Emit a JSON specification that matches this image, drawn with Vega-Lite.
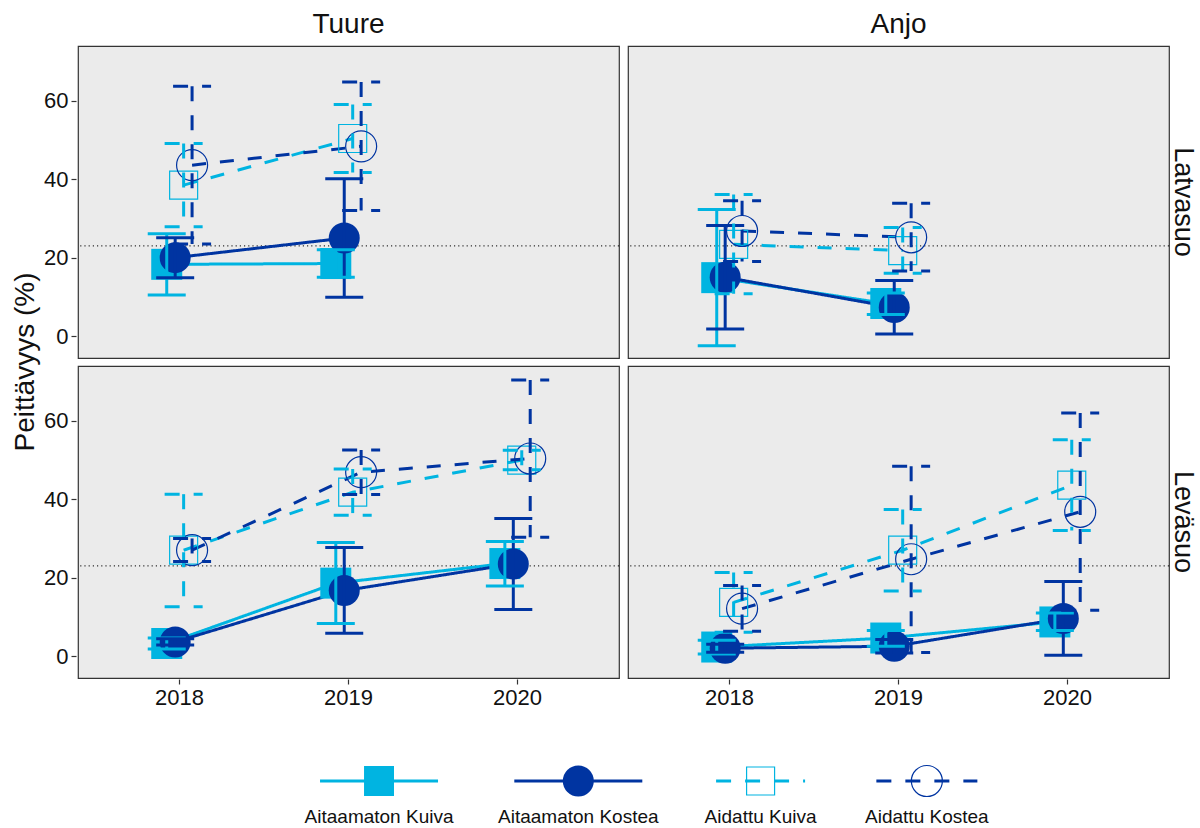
{
  "$schema": "https://vega.github.io/schema/vega-lite/v6.json",
  "background": "white",
  "padding": {"left": 11, "top": 11, "right": 0, "bottom": 0},
  "config": {
    "font": "Liberation Sans",
    "view": {"stroke": "#333333", "strokeWidth": 1.2, "fill": "#EBEBEB"},
    "axis": {"grid": false, "domain": false, "tickColor": "#333333", "tickSize": 5, "tickWidth": 1.2, "labelFontSize": 22, "labelColor": "#111111", "labelPadding": 3, "titleFontSize": 28, "titleFontWeight": "normal", "titleColor": "#111111"},
    "header": {"labelFontSize": 28, "labelColor": "#111111", "titleFontSize": 28, "titleFontWeight": "normal", "titleColor": "#111111"}
  },
  "datasets": {
    "main": [
      {"site": "Tuure", "mire": "Latvasuo", "year": "2018", "series": "Aitaamaton Kuiva", "mean": 18.3, "lo": 10.5, "hi": 26.1},
      {"site": "Tuure", "mire": "Latvasuo", "year": "2019", "series": "Aitaamaton Kuiva", "mean": 18.5, "lo": 15.0, "hi": 22.0},
      {"site": "Anjo", "mire": "Latvasuo", "year": "2018", "series": "Aitaamaton Kuiva", "mean": 14.9, "lo": -2.5, "hi": 32.3},
      {"site": "Anjo", "mire": "Latvasuo", "year": "2019", "series": "Aitaamaton Kuiva", "mean": 8.3, "lo": 5.5, "hi": 11.0},
      {"site": "Tuure", "mire": "Leväsuo", "year": "2018", "series": "Aitaamaton Kuiva", "mean": 3.2, "lo": 1.8, "hi": 4.6},
      {"site": "Tuure", "mire": "Leväsuo", "year": "2019", "series": "Aitaamaton Kuiva", "mean": 18.6, "lo": 8.3, "hi": 29.0},
      {"site": "Tuure", "mire": "Leväsuo", "year": "2020", "series": "Aitaamaton Kuiva", "mean": 23.6, "lo": 17.9, "hi": 29.2},
      {"site": "Anjo", "mire": "Leväsuo", "year": "2018", "series": "Aitaamaton Kuiva", "mean": 2.3, "lo": 0.5, "hi": 4.0},
      {"site": "Anjo", "mire": "Leväsuo", "year": "2019", "series": "Aitaamaton Kuiva", "mean": 4.6, "lo": 2.5, "hi": 6.5},
      {"site": "Anjo", "mire": "Leväsuo", "year": "2020", "series": "Aitaamaton Kuiva", "mean": 8.7, "lo": 6.5, "hi": 11.0},

      {"site": "Tuure", "mire": "Latvasuo", "year": "2018", "series": "Aitaamaton Kostea", "mean": 20.0, "lo": 14.9, "hi": 25.1},
      {"site": "Tuure", "mire": "Latvasuo", "year": "2019", "series": "Aitaamaton Kostea", "mean": 25.0, "lo": 9.9, "hi": 40.1},
      {"site": "Anjo", "mire": "Latvasuo", "year": "2018", "series": "Aitaamaton Kostea", "mean": 15.0, "lo": 1.8, "hi": 28.2},
      {"site": "Anjo", "mire": "Latvasuo", "year": "2019", "series": "Aitaamaton Kostea", "mean": 7.3, "lo": 0.5, "hi": 14.2},
      {"site": "Tuure", "mire": "Leväsuo", "year": "2018", "series": "Aitaamaton Kostea", "mean": 3.6, "lo": 2.8, "hi": 4.4},
      {"site": "Tuure", "mire": "Leväsuo", "year": "2019", "series": "Aitaamaton Kostea", "mean": 16.7, "lo": 5.8, "hi": 27.7},
      {"site": "Tuure", "mire": "Leväsuo", "year": "2020", "series": "Aitaamaton Kostea", "mean": 23.5, "lo": 11.9, "hi": 35.1},
      {"site": "Anjo", "mire": "Leväsuo", "year": "2018", "series": "Aitaamaton Kostea", "mean": 2.0, "lo": 1.0, "hi": 3.0},
      {"site": "Anjo", "mire": "Leväsuo", "year": "2019", "series": "Aitaamaton Kostea", "mean": 2.5, "lo": 0.8, "hi": 4.2},
      {"site": "Anjo", "mire": "Leväsuo", "year": "2020", "series": "Aitaamaton Kostea", "mean": 9.6, "lo": 0.2, "hi": 19.0},

      {"site": "Tuure", "mire": "Latvasuo", "year": "2018", "series": "Aidattu Kuiva", "mean": 38.5, "lo": 27.9, "hi": 49.1},
      {"site": "Tuure", "mire": "Latvasuo", "year": "2019", "series": "Aidattu Kuiva", "mean": 50.4, "lo": 41.7, "hi": 59.1},
      {"site": "Anjo", "mire": "Latvasuo", "year": "2018", "series": "Aidattu Kuiva", "mean": 23.4, "lo": 10.8, "hi": 36.1},
      {"site": "Anjo", "mire": "Latvasuo", "year": "2019", "series": "Aidattu Kuiva", "mean": 21.8, "lo": 16.0, "hi": 27.7},
      {"site": "Tuure", "mire": "Leväsuo", "year": "2018", "series": "Aidattu Kuiva", "mean": 27.0, "lo": 12.6, "hi": 41.3},
      {"site": "Tuure", "mire": "Leväsuo", "year": "2019", "series": "Aidattu Kuiva", "mean": 41.8, "lo": 35.9, "hi": 47.7},
      {"site": "Tuure", "mire": "Leväsuo", "year": "2020", "series": "Aidattu Kuiva", "mean": 50.0, "lo": 47.5, "hi": 52.5},
      {"site": "Anjo", "mire": "Leväsuo", "year": "2018", "series": "Aidattu Kuiva", "mean": 13.7, "lo": 6.1, "hi": 21.3},
      {"site": "Anjo", "mire": "Leväsuo", "year": "2019", "series": "Aidattu Kuiva", "mean": 27.0, "lo": 16.6, "hi": 37.4},
      {"site": "Anjo", "mire": "Leväsuo", "year": "2020", "series": "Aidattu Kuiva", "mean": 43.6, "lo": 32.0, "hi": 55.2},

      {"site": "Tuure", "mire": "Latvasuo", "year": "2018", "series": "Aidattu Kostea", "mean": 43.6, "lo": 23.5, "hi": 63.7},
      {"site": "Tuure", "mire": "Latvasuo", "year": "2019", "series": "Aidattu Kostea", "mean": 48.4, "lo": 32.0, "hi": 64.8},
      {"site": "Anjo", "mire": "Latvasuo", "year": "2018", "series": "Aidattu Kostea", "mean": 26.8, "lo": 19.0, "hi": 34.5},
      {"site": "Anjo", "mire": "Latvasuo", "year": "2019", "series": "Aidattu Kostea", "mean": 25.2, "lo": 16.6, "hi": 33.9},
      {"site": "Tuure", "mire": "Leväsuo", "year": "2018", "series": "Aidattu Kostea", "mean": 27.0, "lo": 24.1, "hi": 30.0},
      {"site": "Tuure", "mire": "Leväsuo", "year": "2019", "series": "Aidattu Kostea", "mean": 46.9, "lo": 41.2, "hi": 52.6},
      {"site": "Tuure", "mire": "Leväsuo", "year": "2020", "series": "Aidattu Kostea", "mean": 50.4, "lo": 30.3, "hi": 70.4},
      {"site": "Anjo", "mire": "Leväsuo", "year": "2018", "series": "Aidattu Kostea", "mean": 12.1, "lo": 6.3, "hi": 18.0},
      {"site": "Anjo", "mire": "Leväsuo", "year": "2019", "series": "Aidattu Kostea", "mean": 24.7, "lo": 0.9, "hi": 48.4},
      {"site": "Anjo", "mire": "Leväsuo", "year": "2020", "series": "Aidattu Kostea", "mean": 36.8, "lo": 11.7, "hi": 62.0}
    ],
    "legend": [
      {"series": "Aitaamaton Kuiva"},
      {"series": "Aitaamaton Kostea"},
      {"series": "Aidattu Kuiva"},
      {"series": "Aidattu Kostea"}
    ]
  },
  "spacing": 53,
  "vconcat": [
    {
      "data": {"name": "main"},
      "facet": {
        "column": {"field": "site", "type": "nominal", "sort": ["Tuure", "Anjo"], "header": {"title": null, "labelFontSize": 28, "labelPadding": 6}},
        "row": {"field": "mire", "type": "nominal", "sort": ["Latvasuo", "Leväsuo"], "header": {"title": "Peittävyys (%)", "titleOrient": "left", "titleAngle": -90, "titlePadding": -35, "labelOrient": "right", "labelAngle": 90, "labelPadding": -2, "labelFontSize": 27}}
      },
      "spacing": {"row": 6, "column": 5},
      "spec": {
        "width": 541,
        "height": 312,
        "encoding": {
          "x": {"field": "year", "type": "nominal", "scale": {"domain": ["2018", "2019", "2020"], "paddingInner": 0, "paddingOuter": 0.1}, "axis": {"title": null, "labelAngle": 0}},
          "xOffset": {"field": "series", "type": "nominal", "scale": {"domain": ["Aitaamaton Kuiva", "Aitaamaton Kostea", "Aidattu Kuiva", "Aidattu Kostea"], "paddingInner": 0, "paddingOuter": 0, "range": [67.6, 101.4]}},
          "color": {"field": "series", "type": "nominal", "scale": {"domain": ["Aitaamaton Kuiva", "Aitaamaton Kostea", "Aidattu Kuiva", "Aidattu Kostea"], "range": ["#00B4E1", "#0034A1", "#00B4E1", "#0034A1"]}, "legend": null}
        },
        "layer": [
          {
            "transform": [{"aggregate": [{"op": "count", "as": "n"}], "groupby": ["site", "mire"]}],
            "mark": {"type": "rule", "color": "#000000", "strokeWidth": 1, "strokeDash": [1.2, 3]},
            "encoding": {"x": null, "xOffset": null, "color": null, "y": {"datum": 23, "type": "quantitative", "scale": {"domain": [-5.6, 74.0], "nice": false, "zero": false}, "axis": {"title": null, "values": [0, 20, 40, 60]}}}
          },
          {
            "mark": {"type": "line", "strokeWidth": 3},
            "encoding": {
              "y": {"field": "mean", "type": "quantitative"},
              "strokeDash": {"field": "series", "type": "nominal", "scale": {"domain": ["Aitaamaton Kuiva", "Aitaamaton Kostea", "Aidattu Kuiva", "Aidattu Kostea"], "range": [[1, 0], [1, 0], [14, 14], [14, 14]]}, "legend": null}
            }
          },
          {
            "transform": [{"filter": {"field": "series", "equal": "Aitaamaton Kuiva"}}],
            "mark": {"type": "point", "shape": "square", "filled": true, "opacity": 1, "size": 961, "color": "#00B4E1"},
            "encoding": {"y": {"field": "mean", "type": "quantitative"}, "color": null}
          },
          {
            "transform": [{"filter": {"field": "series", "equal": "Aitaamaton Kostea"}}],
            "mark": {"type": "point", "shape": "circle", "filled": true, "opacity": 1, "size": 961, "color": "#0034A1"},
            "encoding": {"y": {"field": "mean", "type": "quantitative"}, "color": null}
          },
          {
            "transform": [{"filter": {"field": "series", "equal": "Aidattu Kuiva"}}],
            "mark": {"type": "point", "shape": "square", "filled": false, "opacity": 1, "size": 784, "color": "#00B4E1", "strokeWidth": 1.2},
            "encoding": {"y": {"field": "mean", "type": "quantitative"}, "color": null}
          },
          {
            "transform": [{"filter": {"field": "series", "equal": "Aidattu Kostea"}}],
            "mark": {"type": "point", "shape": "circle", "filled": false, "opacity": 1, "size": 961, "color": "#0034A1", "strokeWidth": 1.2},
            "encoding": {"y": {"field": "mean", "type": "quantitative"}, "color": null}
          },
          {
            "transform": [{"filter": {"field": "series", "oneOf": ["Aitaamaton Kuiva", "Aitaamaton Kostea"]}}],
            "mark": {"type": "rule", "strokeWidth": 3},
            "encoding": {"y": {"field": "hi", "type": "quantitative"}, "y2": {"field": "lo"}}
          },
          {
            "transform": [{"filter": {"field": "series", "oneOf": ["Aitaamaton Kuiva", "Aitaamaton Kostea"]}}, {"fold": ["lo", "hi"], "as": ["bound", "val"]}],
            "mark": {"type": "tick", "orient": "horizontal", "size": 38, "thickness": 3, "opacity": 1},
            "encoding": {"y": {"field": "val", "type": "quantitative"}}
          },
          {
            "transform": [{"filter": {"field": "series", "oneOf": ["Aidattu Kuiva", "Aidattu Kostea"]}}],
            "mark": {"type": "rule", "strokeWidth": 3, "strokeDash": [15, 14]},
            "encoding": {"y": {"field": "hi", "type": "quantitative"}, "y2": {"field": "lo"}}
          },
          {
            "transform": [{"filter": {"field": "series", "oneOf": ["Aidattu Kuiva", "Aidattu Kostea"]}}, {"fold": ["lo", "hi"], "as": ["bound", "val"]}],
            "mark": {"type": "tick", "orient": "horizontal", "size": 38, "thickness": 0, "filled": false, "opacity": 1, "strokeWidth": 3, "strokeDash": [15, 14, 9, 100]},
            "encoding": {"y": {"field": "val", "type": "quantitative"}}
          }
        ]
      }
    },
    {
      "data": {"name": "legend"},
      "width": 938,
      "height": 40,
      "view": {"stroke": null, "fill": null},
      "encoding": {
        "x": {"field": "series", "type": "nominal", "scale": {"domain": ["Aitaamaton Kuiva", "Aitaamaton Kostea", "Aidattu Kuiva", "Aidattu Kostea"], "paddingInner": 0, "paddingOuter": 0.573, "align": 1}, "axis": null}
      },
      "layer": [
        {"transform": [{"filter": {"field": "series", "equal": "Aitaamaton Kuiva"}}], "mark": {"type": "tick", "orient": "horizontal", "size": 118, "thickness": 3, "color": "#00B4E1", "opacity": 1, "xOffset": 1}},
        {"transform": [{"filter": {"field": "series", "equal": "Aitaamaton Kostea"}}], "mark": {"type": "tick", "orient": "horizontal", "size": 128, "thickness": 3, "color": "#0034A1", "opacity": 1, "xOffset": 18}},
        {"transform": [{"filter": {"field": "series", "equal": "Aidattu Kuiva"}}], "mark": {"type": "tick", "orient": "horizontal", "size": 89, "thickness": 0, "filled": false, "strokeWidth": 3, "color": "#00B4E1", "opacity": 1, "xOffset": 18, "strokeDash": [15, 14, 15, 14, 15, 14, 2, 200]}},
        {"transform": [{"filter": {"field": "series", "equal": "Aidattu Kostea"}}], "mark": {"type": "tick", "orient": "horizontal", "size": 101, "thickness": 0, "filled": false, "strokeWidth": 3, "color": "#0034A1", "opacity": 1, "xOffset": 2, "strokeDash": [15, 14, 15, 14, 15, 14, 14, 220]}},
        {"transform": [{"filter": {"field": "series", "equal": "Aitaamaton Kuiva"}}], "mark": {"type": "point", "shape": "square", "filled": true, "opacity": 1, "size": 900, "color": "#00B4E1", "xOffset": 1}},
        {"transform": [{"filter": {"field": "series", "equal": "Aitaamaton Kostea"}}], "mark": {"type": "point", "shape": "circle", "filled": true, "opacity": 1, "size": 961, "color": "#0034A1", "xOffset": 18}},
        {"transform": [{"filter": {"field": "series", "equal": "Aidattu Kuiva"}}], "mark": {"type": "point", "shape": "square", "filled": false, "opacity": 1, "size": 784, "color": "#00B4E1", "strokeWidth": 1.2, "xOffset": 18}},
        {"transform": [{"filter": {"field": "series", "equal": "Aidattu Kostea"}}], "mark": {"type": "point", "shape": "circle", "filled": false, "opacity": 1, "size": 961, "color": "#0034A1", "strokeWidth": 1.2, "xOffset": 2}},
        {"transform": [{"filter": {"field": "series", "equal": "Aitaamaton Kuiva"}}], "mark": {"type": "text", "fontSize": 19, "color": "#111111", "align": "center", "baseline": "middle", "dy": 36, "xOffset": 1}, "encoding": {"text": {"field": "series"}}},
        {"transform": [{"filter": {"field": "series", "equal": "Aitaamaton Kostea"}}], "mark": {"type": "text", "fontSize": 19, "color": "#111111", "align": "center", "baseline": "middle", "dy": 36, "xOffset": 18}, "encoding": {"text": {"field": "series"}}},
        {"transform": [{"filter": {"field": "series", "equal": "Aidattu Kuiva"}}], "mark": {"type": "text", "fontSize": 19, "color": "#111111", "align": "center", "baseline": "middle", "dy": 36, "xOffset": 18}, "encoding": {"text": {"field": "series"}}},
        {"transform": [{"filter": {"field": "series", "equal": "Aidattu Kostea"}}], "mark": {"type": "text", "fontSize": 19, "color": "#111111", "align": "center", "baseline": "middle", "dy": 36, "xOffset": 2}, "encoding": {"text": {"field": "series"}}}
      ]
    }
  ]
}
